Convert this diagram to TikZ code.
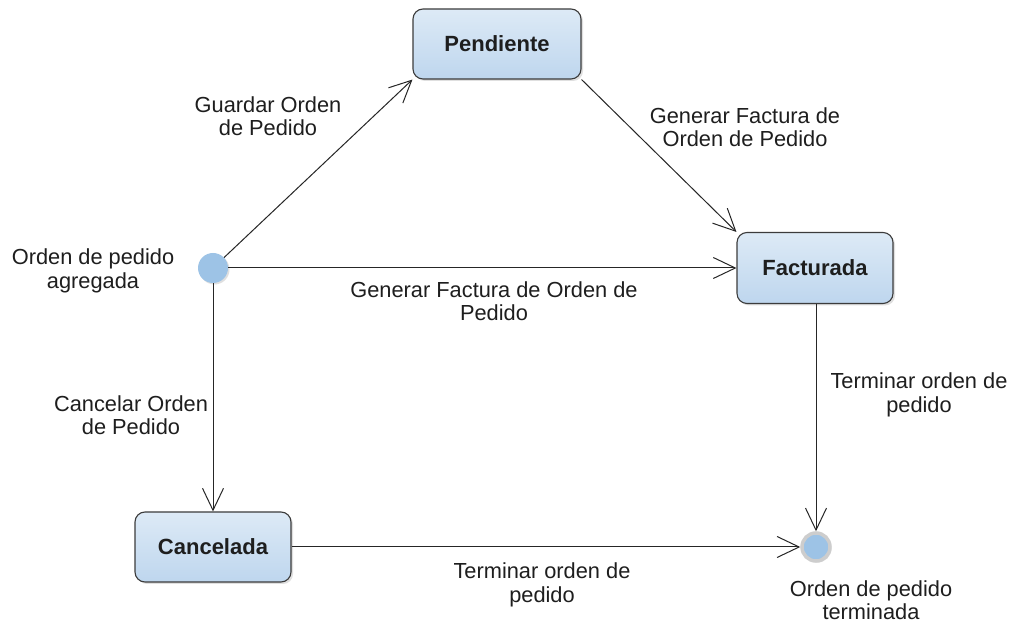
\documentclass[tikz,border=0pt]{standalone}
\usepackage{fontspec}
\setmainfont{Liberation Sans}
\usetikzlibrary{arrows.meta,shadows}
\definecolor{boxtop}{HTML}{DDEAF6}
\definecolor{boxbot}{HTML}{BED6EE}
\definecolor{boxline}{HTML}{3C3C3C}
\definecolor{dotblue}{HTML}{9DC3E6}
\definecolor{ringgray}{HTML}{CDCDCD}
\definecolor{txt}{HTML}{1E1E1E}
\tikzset{
  statebox/.style={draw=boxline, line width=1.1pt, rounded corners=10pt,
    top color=boxtop, bottom color=boxbot, text=txt,
    font=\fontsize{22}{25}\selectfont\bfseries,
    drop shadow={shadow xshift=2pt, shadow yshift=-2pt, opacity=0.25}},
  startdot/.style={circle, fill=dotblue, minimum size=30pt, inner sep=0pt,
    drop shadow={shadow xshift=1.5pt, shadow yshift=-1.5pt, opacity=0.25}},
  enddot/.style={circle, fill=dotblue, draw=ringgray, line width=3.5pt,
    minimum size=28pt, inner sep=0pt,
    drop shadow={shadow xshift=1.5pt, shadow yshift=-1.5pt, opacity=0.25}},
  lbl/.style={align=center, text=txt, font=\fontsize{21.8}{23.5}\selectfont},
  flow/.style={draw=black!85, line width=1pt,
    -{Straight Barb[length=22pt,width=21pt,line width=1pt]}},
}
\begin{document}
\begin{tikzpicture}[x=1pt,y=1pt]
\useasboundingbox (0,0) rectangle (1017,626);
\fill[white] (0,0) rectangle (1017,626);

% states
\node[statebox, minimum width=168pt, minimum height=70pt] (pend) at (497,582) {Pendiente};
\node[statebox, minimum width=156pt, minimum height=71pt] (fact) at (815,358) {Facturada};
\node[statebox, minimum width=156pt, minimum height=70pt] (canc) at (213,79) {Cancelada};
\node[startdot] (ini) at (213,358) {};
\node[enddot] (fin) at (816,79) {};

% transitions
\draw[flow] (ini) -- (pend.south west);
\draw[flow] (pend.south east) -- (fact.north west);
\draw[flow] (ini.east) -- (fact.west);
\draw[flow] (ini.south) -- (canc.north);
\draw[flow] (fact.south -| fin.north) -- (fin.north);
\draw[flow] (canc.east) -- (fin.west);

% labels
\node[lbl] (lini) at (93,355) {Orden de pedido\\agregada};
\node[lbl] (lguard) at (268,510) {Guardar Orden\\de Pedido};
\node[lbl] (lgen1) at (745,499) {Generar Factura de\\Orden de Pedido};
\node[lbl] (lgen2) at (494,325) {Generar Factura de Orden de\\Pedido};
\node[lbl] (lcanc) at (131,211) {Cancelar Orden\\de Pedido};
\node[lbl] (lterm1) at (919,231) {Terminar orden de\\pedido};
\node[lbl] (lterm2) at (542,41) {Terminar orden de\\pedido};
\node[lbl] (lfin) at (871,26) {Orden de pedido\\terminada};
\end{tikzpicture}
\end{document}
